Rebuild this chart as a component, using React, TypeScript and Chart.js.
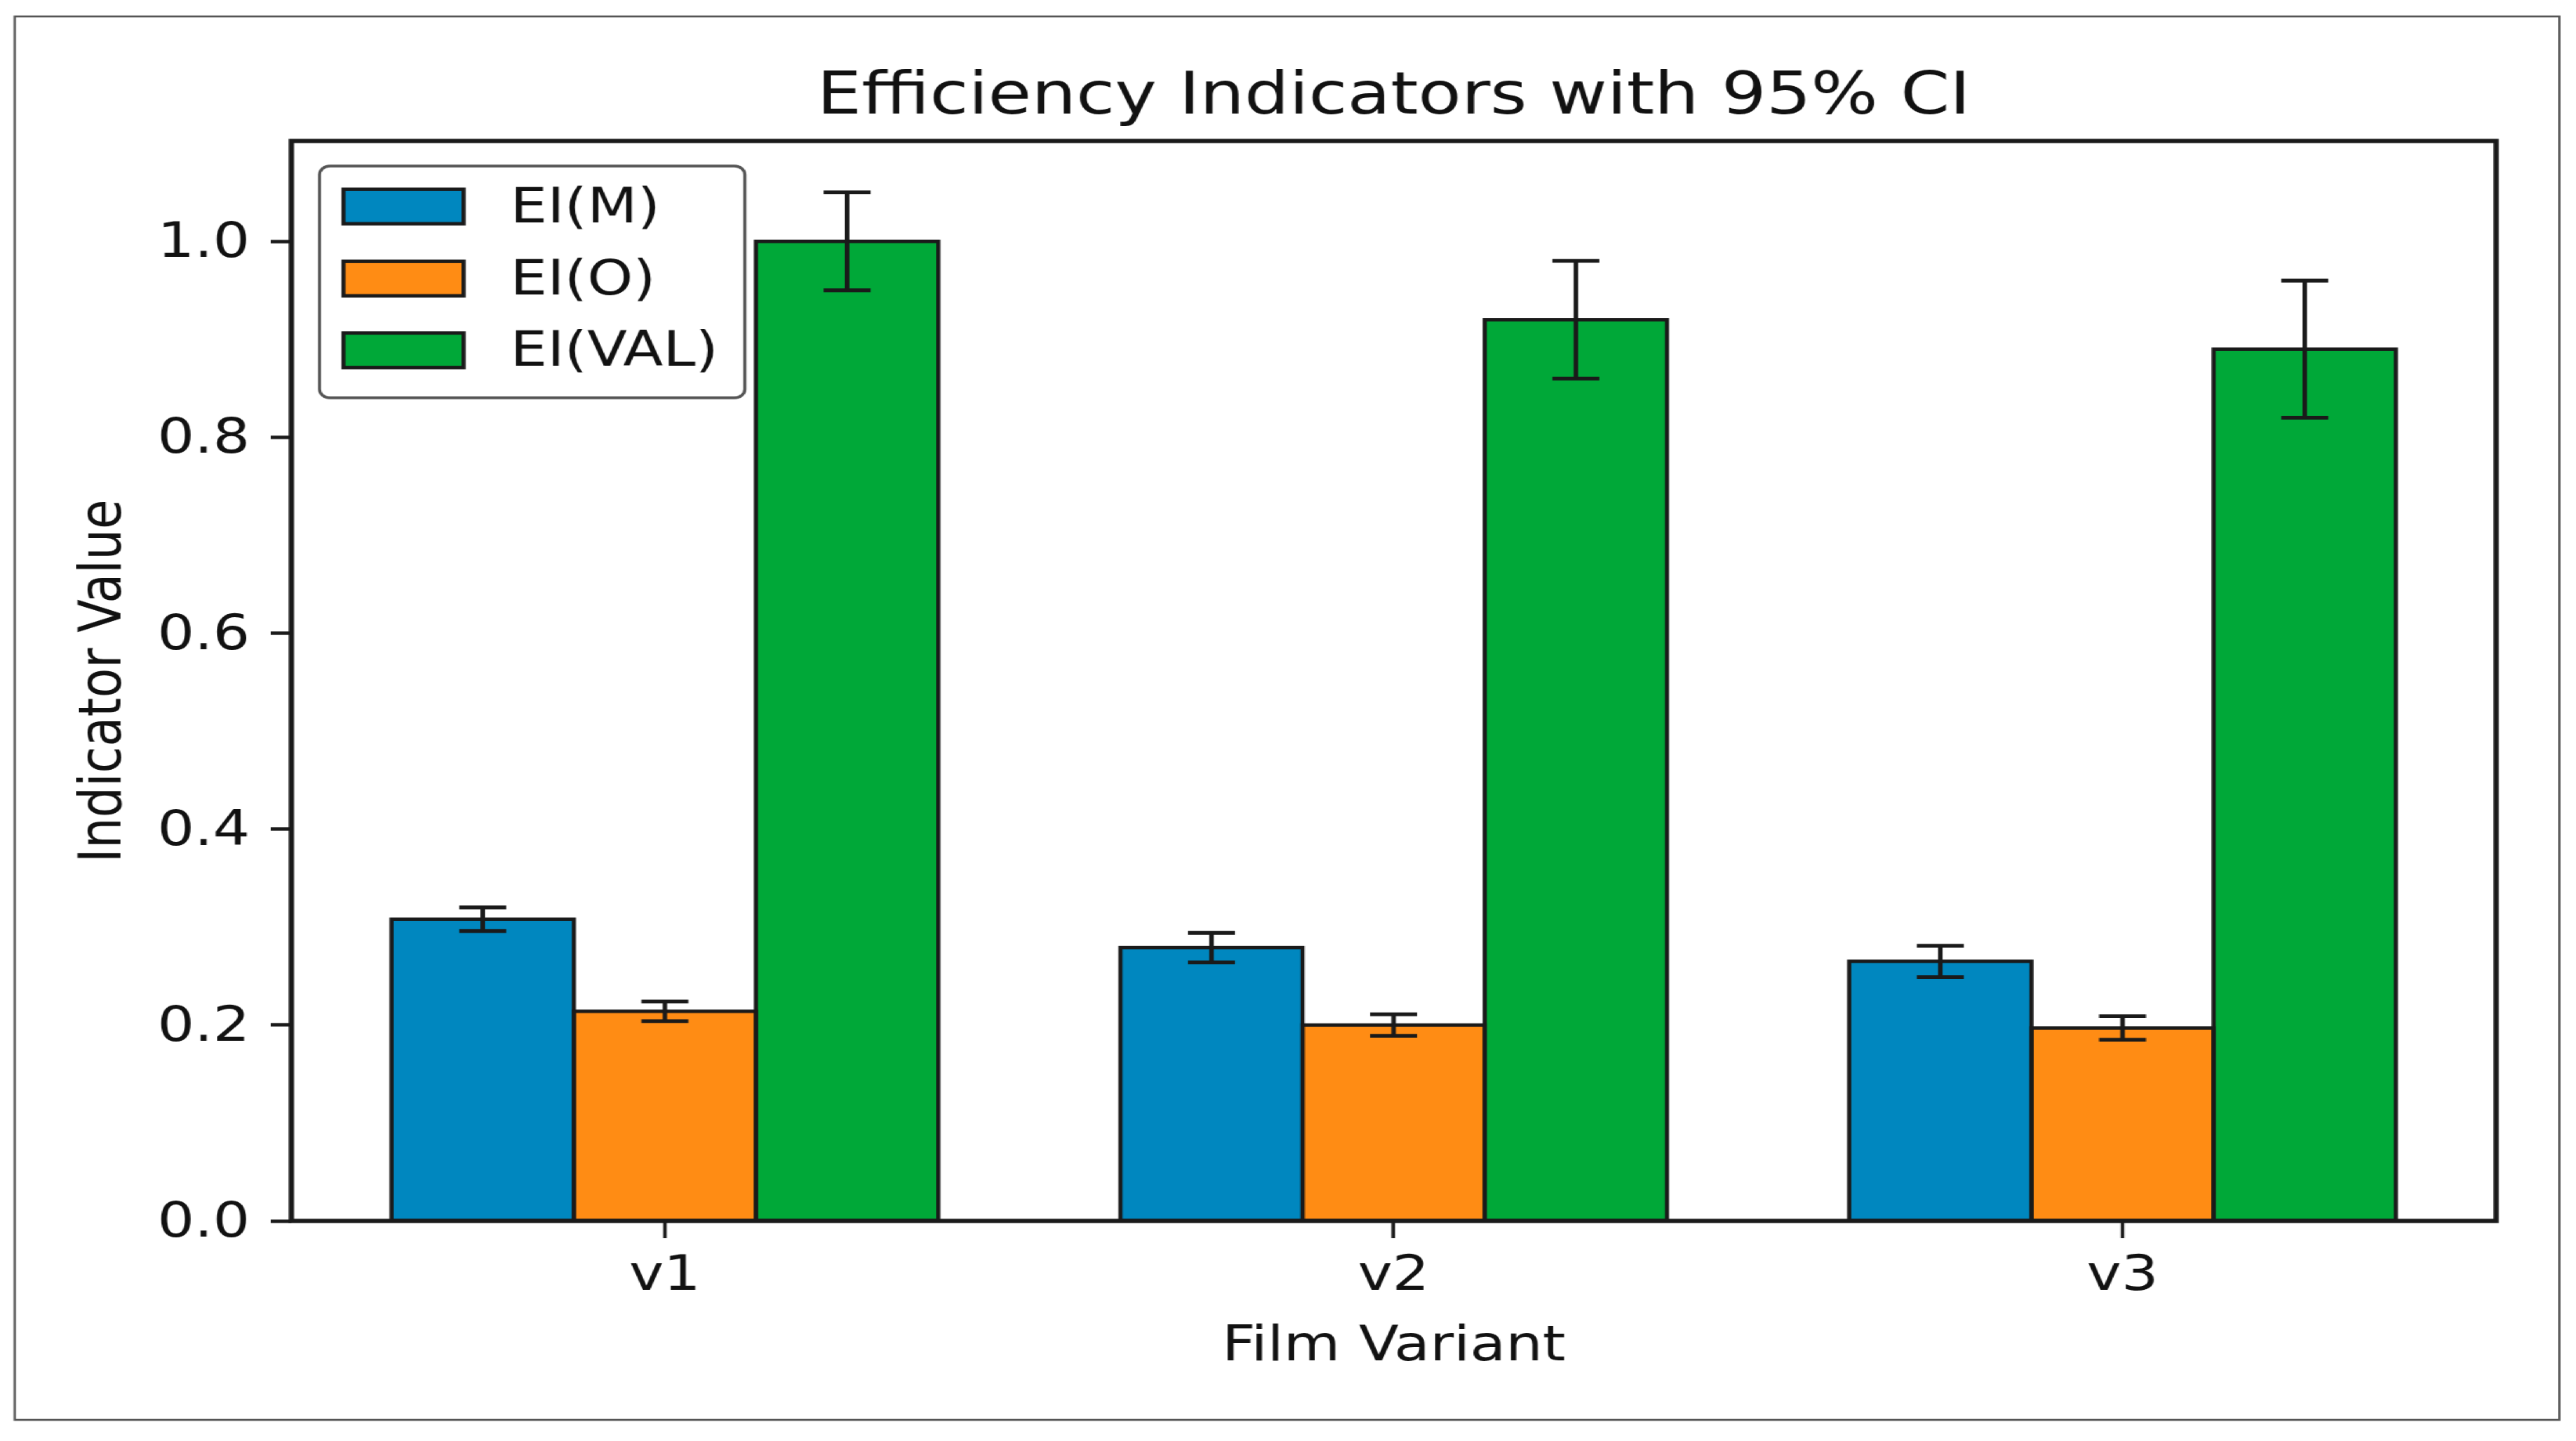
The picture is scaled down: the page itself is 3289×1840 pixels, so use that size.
import React, { useEffect, useRef } from "react";
import { Chart, registerables } from "chart.js";

Chart.register(...registerables);

const categories = ["v1", "v2", "v3"];
const seriesNames = ["EI(M)", "EI(O)", "EI(VAL)"];
const eiM = [0.308, 0.279, 0.265];
const eiO = [0.214, 0.2, 0.197];
const eiVAL = [1.0, 0.92, 0.89];
const errM = [0.012, 0.015, 0.016];
const errO = [0.01, 0.011, 0.012];
const errVAL = [0.05, 0.06, 0.07];
const yTicks = [0, 0.2, 0.4, 0.6, 0.8, 1.0];
const colors = ["#0087BF", "#FF8C14", "#00A838"];

const W = 2741;
const H = 1840;
const SX = 3289 / 2741;
const FONT = "'DejaVu Sans', sans-serif";
const INK = "#111111";
const EDGE = "#1a1a1a";

const seriesValues = [eiM, eiO, eiVAL];
const seriesErrors = [errM, errO, errVAL];

const decorPlugin = {
  id: "decor",
  afterDatasetsDraw(chart: any) {
    const ctx = chart.ctx as CanvasRenderingContext2D;
    const ys = chart.scales.y;
    ctx.save();
    // bar outlines (centred on the bar edges)
    chart.data.datasets.forEach((_ds: any, i: number) => {
      const meta = chart.getDatasetMeta(i);
      meta.data.forEach((el: any) => {
        const p = el.getProps(["x", "y", "base", "width"], true);
        ctx.lineWidth = 4.4;
        ctx.strokeStyle = EDGE;
        ctx.strokeRect(p.x - p.width / 2, p.y, p.width, p.base - p.y);
      });
    });
    // error bars
    chart.data.datasets.forEach((_ds: any, i: number) => {
      const meta = chart.getDatasetMeta(i);
      meta.data.forEach((el: any, j: number) => {
        const v = seriesValues[i][j];
        const e = seriesErrors[i][j];
        const x = el.getProps(["x"], true).x;
        const yTop = ys.getPixelForValue(v + e);
        const yBot = ys.getPixelForValue(v - e);
        const cap = 25;
        ctx.strokeStyle = EDGE;
        ctx.lineWidth = 4.8;
        ctx.beginPath();
        ctx.moveTo(x, yTop);
        ctx.lineTo(x, yBot);
        ctx.moveTo(x - cap, yTop);
        ctx.lineTo(x + cap, yTop);
        ctx.moveTo(x - cap, yBot);
        ctx.lineTo(x + cap, yBot);
        ctx.stroke();
      });
    });
    // spines
    const a = chart.chartArea;
    ctx.lineWidth = 5.5;
    ctx.strokeStyle = EDGE;
    ctx.strokeRect(a.left, a.top, a.right - a.left, a.bottom - a.top);
    ctx.restore();
  },
  afterDraw(chart: any) {
    const ctx = chart.ctx as CanvasRenderingContext2D;
    ctx.save();
    // legend frame
    const lx = 340, ly = 212, lw = 452.5, lh = 296;
    ctx.beginPath();
    (ctx as any).roundRect(lx, ly, lw, lh, 11);
    ctx.fillStyle = "rgba(255,255,255,0.85)";
    ctx.fill();
    ctx.lineWidth = 3.4;
    ctx.strokeStyle = "#555555";
    ctx.stroke();
    // legend items
    const rowCenters = [263.7, 355.7, 447.3];
    chart.data.datasets.forEach((ds: any, i: number) => {
      const cy = rowCenters[i];
      const px = 365.4, pw = 127.9, ph = 44;
      ctx.fillStyle = ds.backgroundColor;
      ctx.fillRect(px, cy - ph / 2, pw, ph);
      ctx.lineWidth = 4.4;
      ctx.strokeStyle = EDGE;
      ctx.strokeRect(px, cy - ph / 2, pw, ph);
      ctx.fillStyle = INK;
      ctx.font = `62px ${FONT}`;
      ctx.textAlign = "left";
      ctx.textBaseline = "middle";
      ctx.fillText(ds.label, 543, cy + 4);
    });
    // outer figure border
    ctx.lineWidth = 2.5;
    ctx.strokeStyle = "#555555";
    ctx.strokeRect(15.8, 21, 2723.3 - 15.8, 1813 - 21);
    ctx.restore();
  },
};

export default function App() {
  const ref = useRef<HTMLCanvasElement | null>(null);
  useEffect(() => {
    if (!ref.current) return;
    Chart.defaults.font.family = FONT;
    const datasets = seriesNames.map((name, i) => ({
      label: name,
      data: categories.map((_, j) => ({ x: j, y: seriesValues[i][j] })),
      backgroundColor: colors[i],
      borderWidth: 0,
      barPercentage: 1,
      categoryPercentage: 0.75,
    }));
    const chart = new Chart(ref.current, {
      type: "bar",
      data: { datasets },
      plugins: [decorPlugin],
      options: {
        responsive: false,
        animation: false,
        devicePixelRatio: 1,
        layout: { padding: { left: 0, right: 85, top: 0, bottom: 0 } },
        plugins: {
          legend: { display: false },
          tooltip: { enabled: false },
          title: {
            display: true,
            fullSize: false,
            text: "Efficiency Indicators with 95% CI",
            color: INK,
            font: { family: FONT, size: 75, weight: "normal" },
            padding: { top: 81, bottom: 9 },
          },
        },
        scales: {
          x: {
            type: "linear",
            min: -0.5125,
            max: 2.5125,
            offset: false,
            afterBuildTicks: (s: any) => {
              s.ticks = categories.map((_, i) => ({ value: i }));
            },
            afterFit: (s: any) => {
              s.height = 281;
            },
            ticks: {
              callback: (v: any) => categories[Math.round(Number(v))] ?? "",
              color: INK,
              font: { family: FONT, size: 62 },
              padding: 13,
              maxRotation: 0,
              autoSkip: false,
            },
            grid: {
              display: true,
              offset: false,
              drawOnChartArea: false,
              drawTicks: true,
              tickLength: 22,
              tickWidth: 3.8,
              tickColor: EDGE,
            },
            border: { display: false },
            title: {
              display: true,
              text: "Film Variant",
              color: INK,
              font: { family: FONT, size: 62 },
              padding: { top: 0, bottom: 82 },
            },
          },
          y: {
            type: "linear",
            min: 0,
            max: 1.1025,
            afterBuildTicks: (s: any) => {
              s.ticks = yTicks.map((v) => ({ value: v }));
            },
            afterFit: (s: any) => {
              s.width = 310;
            },
            ticks: {
              callback: (v: any) => Number(v).toFixed(1),
              color: INK,
              font: { family: FONT, size: 62 },
              padding: 22,
              labelOffset: 4,
            },
            grid: {
              display: true,
              drawOnChartArea: false,
              drawTicks: true,
              tickLength: 22,
              tickWidth: 4.4,
              tickColor: EDGE,
            },
            border: { display: false },
            title: {
              display: true,
              text: "Indicator Value",
              color: INK,
              font: { family: FONT, size: 62 },
              padding: { top: 75, bottom: 0 },
            },
          },
        },
      } as any,
    });
    return () => chart.destroy();
  }, []);
  return (
    <div
      style={{
        position: "fixed",
        left: 0,
        top: 0,
        width: W,
        height: H,
        transform: `scale(${SX}, 1)`,
        transformOrigin: "0 0",
        background: "#ffffff",
      }}
    >
      <canvas ref={ref} width={W} height={H} style={{ display: "block" }} />
    </div>
  );
}
